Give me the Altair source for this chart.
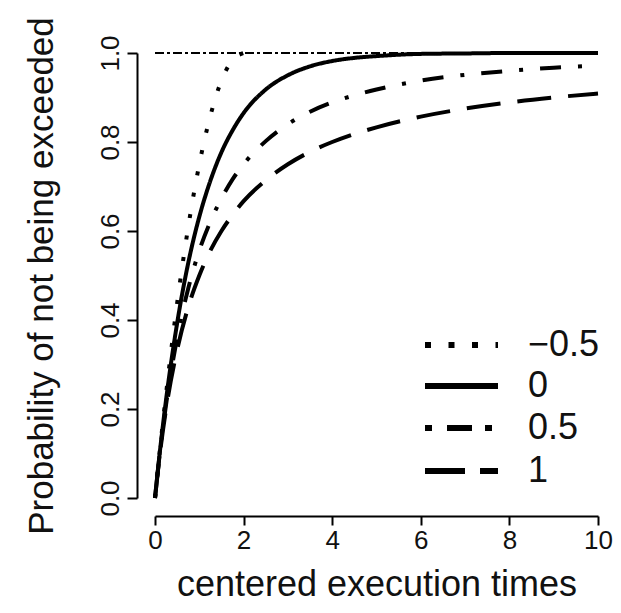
import altair as alt
import pandas as pd

# ---- data ----
x_vals = [0, 0.1, 0.25, 0.5, 0.75, 1, 1.25, 1.5, 1.75, 2, 2.5, 3, 3.5, 4, 4.5, 5, 6, 7, 8, 9, 10]
y_xi0 = [0, 0.095, 0.221, 0.393, 0.528, 0.632, 0.713, 0.777, 0.826, 0.865, 0.918, 0.950,
         0.970, 0.982, 0.989, 0.993, 0.998, 0.999, 1.0, 1.0, 1.0]
x_neg = [0, 0.1, 0.25, 0.5, 0.75, 1, 1.25, 1.5, 1.75, 2]
y_xineg = [0, 0.098, 0.234, 0.438, 0.609, 0.750, 0.859, 0.938, 0.984, 1.0]
y_xi05 = [0, 0.093, 0.210, 0.360, 0.471, 0.556, 0.621, 0.673, 0.716, 0.750, 0.802, 0.840,
          0.868, 0.889, 0.905, 0.918, 0.938, 0.951, 0.960, 0.967, 0.972]
y_xi1 = [0, 0.091, 0.200, 0.333, 0.429, 0.500, 0.556, 0.600, 0.636, 0.667, 0.714, 0.750,
         0.778, 0.800, 0.818, 0.833, 0.857, 0.875, 0.889, 0.900, 0.909]
top_x = [0, 10]
top_y = [1, 1]

series_labels = ["\u22120.5", "0", "0.5", "1"]
x_ticks = [0, 2, 4, 6, 8, 10]
y_ticks = [0, 0.2, 0.4, 0.6, 0.8, 1.0]

FONT = "Liberation Sans"
TXT = "#111111"

rows = []
for s, xs, ys in [(series_labels[0], x_neg, y_xineg), (series_labels[1], x_vals, y_xi0),
                  (series_labels[2], x_vals, y_xi05), (series_labels[3], x_vals, y_xi1)]:
    for a, b in zip(xs, ys):
        rows.append({"x": a, "y": b, "series": s})
df = pd.DataFrame(rows)
top_df = pd.DataFrame({"x": top_x, "y": top_y})

dashes_plot = [[4, 17.7], [1, 0], [4, 17, 21, 17], [34, 17]]
dashes_leg = [[6, 17.5], [1, 0], [7, 15, 25, 13], [40, 15]]

xscale = alt.Scale(domain=[0, 10], nice=False, zero=False)
yscale = alt.Scale(domain=[0, 1], nice=False, zero=False)

xaxis = alt.Axis(values=x_ticks, offset=18, tickSize=9, tickWidth=2, domainWidth=2,
                 domainColor="black", tickColor="black", labelFontSize=26, labelFont=FONT,
                 labelColor=TXT, labelPadding=2, labelFlush=False, grid=False,
                 title="centered execution times", titleFont=FONT, titleFontSize=36,
                 titleFontWeight="normal", titleColor=TXT, titlePadding=14)
yaxis = alt.Axis(values=y_ticks, format=".1f", offset=18, tickSize=10, tickWidth=2,
                 domainWidth=2, domainColor="black", tickColor="black", labelFontSize=26,
                 labelFont=FONT, labelColor=TXT, labelPadding=4, labelAngle=270,
                 labelAlign="center", labelBaseline="bottom", labelFlush=False, grid=False,
                 title="Probability of not being exceeded", titleFont=FONT, titleFontSize=35,
                 titleFontWeight="normal", titleColor=TXT, titlePadding=38)

top_line = alt.Chart(top_df).mark_line(color="black", strokeWidth=2, strokeDash=[9, 3, 3, 3]).encode(
    x=alt.X("x:Q", scale=xscale, axis=xaxis),
    y=alt.Y("y:Q", scale=yscale, axis=yaxis),
)

curves = alt.Chart(df).mark_line(color="black", strokeWidth=4, interpolate="monotone").encode(
    x=alt.X("x:Q", scale=xscale),
    y=alt.Y("y:Q", scale=yscale),
    strokeDash=alt.StrokeDash("series:N", scale=alt.Scale(domain=series_labels, range=dashes_plot),
                              legend=None),
    detail="series:N",
)

# manual R-style legend (no box)
leg_y = [292, 333, 375, 418]
layers = [top_line, curves]
for lab, dash, yy in zip(series_labels, dashes_leg, leg_y):
    one = pd.DataFrame({"label": [lab]})
    layers.append(alt.Chart(one).mark_rule(color="black", strokeWidth=6, strokeDash=dash).encode(
        x=alt.value(270), x2=alt.value(343), y=alt.value(yy)))
    layers.append(alt.Chart(one).mark_text(align="left", baseline="middle", font=FONT, fontSize=36,
                                           color=TXT).encode(
        x=alt.value(373), y=alt.value(yy), text="label:N"))

chart = alt.layer(*layers).properties(
    width=443, height=445,
    autosize=alt.AutoSizeParams(type="none"),
    padding={"left": 147, "top": 45, "right": 15, "bottom": 108},
).configure_view(stroke=None)

chart.save("out.html", embed_options={"renderer": "svg", "actions": False})
